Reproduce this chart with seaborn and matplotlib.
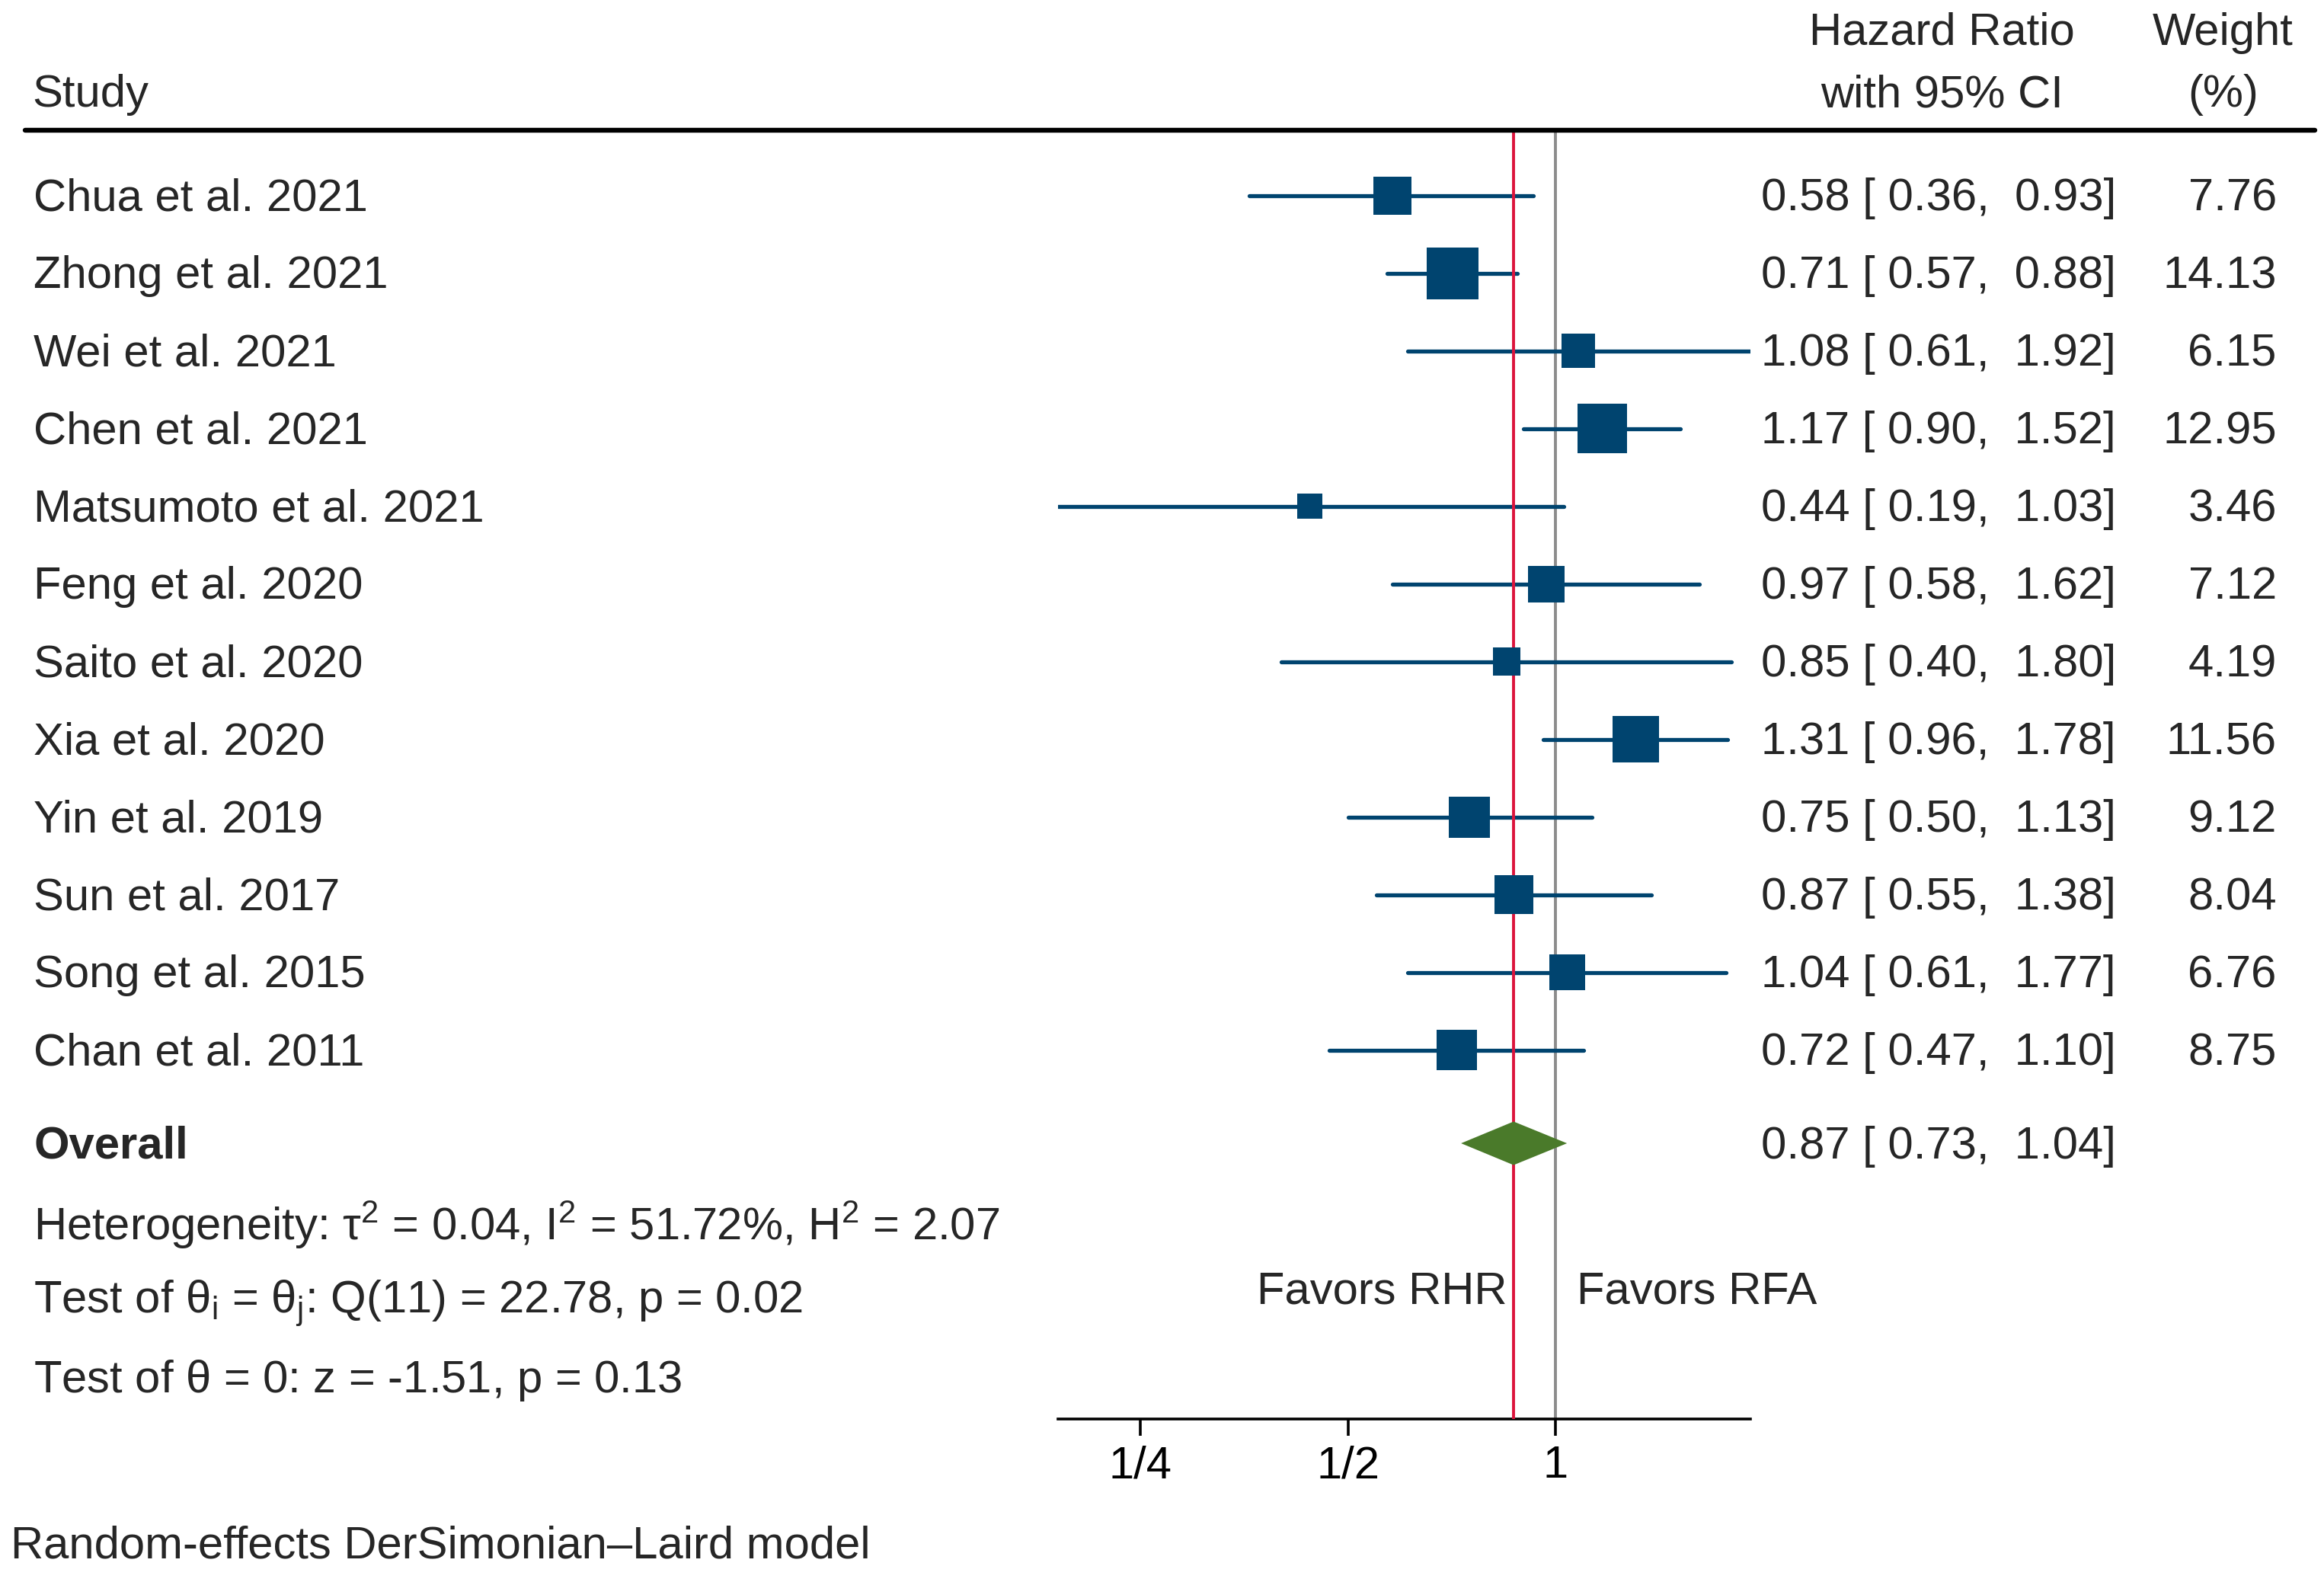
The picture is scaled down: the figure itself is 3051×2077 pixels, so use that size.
import matplotlib
matplotlib.use("Agg")
import matplotlib.pyplot as plt
import matplotlib.transforms as mtransforms
from matplotlib.lines import Line2D
import numpy as np
import pandas as pd
import seaborn as sns

# study data
studies = ["Chua et al. 2021", "Zhong et al. 2021", "Wei et al. 2021", "Chen et al. 2021",
           "Matsumoto et al. 2021", "Feng et al. 2020", "Saito et al. 2020", "Xia et al. 2020",
           "Yin et al. 2019", "Sun et al. 2017", "Song et al. 2015", "Chan et al. 2011"]
hr = [0.58, 0.71, 1.08, 1.17, 0.44, 0.97, 0.85, 1.31, 0.75, 0.87, 1.04, 0.72]
lower = [0.36, 0.57, 0.61, 0.90, 0.19, 0.58, 0.40, 0.96, 0.50, 0.55, 0.61, 0.47]
upper = [0.93, 0.88, 1.92, 1.52, 1.03, 1.62, 1.80, 1.78, 1.13, 1.38, 1.77, 1.10]
weights = [7.76, 14.13, 6.15, 12.95, 3.46, 7.12, 4.19, 11.56, 9.12, 8.04, 6.76, 8.75]

overall_hr = 0.87
overall_lo = 0.73
overall_hi = 1.04

tick_vals = [0.25, 0.5, 1]
tick_labels = ["1/4", "1/2", "1"]

het_text = r"Heterogeneity: $\tau^2$ = 0.04, I$^2$ = 51.72%, H$^2$ = 2.07"
q_text = r"Test of $\theta_i$ = $\theta_j$: Q(11) = 22.78, p = 0.02"
z_text = r"Test of $\theta$ = 0: z = -1.51, p = 0.13"
model_text = "Random-effects DerSimonian\u2013Laird model"

df = pd.DataFrame({"study": studies, "hr": hr, "lower": lower, "upper": upper, "weight": weights})
df["row"] = np.arange(len(df))

sns.set_style("white")
plt.rcParams["font.family"] = ["Liberation Sans", "DejaVu Sans"]
plt.rcParams["mathtext.default"] = "regular"
FS = 21.5
navy = "#00446F"
green = "#4A7A2A"
red = "#DC143C"
grey = "#8C8C8C"

fig = plt.figure(figsize=(15.255, 10.385), dpi=200)
ax = fig.add_axes([0.4554, 0.1030, 0.2978, 0.8146])
ax.set_xscale("log", base=2)

# reference lines
ax.axvline(1, color=grey, lw=1.4, zorder=1)
ax.hlines(df["row"], df["lower"], df["upper"], color=navy, lw=1.9, capstyle="round", zorder=2)
ax.axvline(overall_hr, color=red, lw=1.4, zorder=3)

wmin, wmax = min(weights), max(weights)
sns.scatterplot(data=df, x="hr", y="row", size="weight", sizes=(42 * wmin, 42 * wmax),
                marker="s", color=navy, linewidth=0, legend=False, ax=ax, zorder=4)

# overall diamond
y_ov = 12.2
dh = 0.28
ax.fill([overall_lo, overall_hr, overall_hi, overall_hr],
        [y_ov, y_ov - dh, y_ov, y_ov + dh], color=green, lw=0, zorder=5)

ax.set_xlim(min(lower), max(upper))
ax.set_ylim(15.75, -0.84)
ax.set_xticks(tick_vals)
ax.set_xticklabels(tick_labels, fontsize=FS)
ax.xaxis.set_minor_locator(matplotlib.ticker.NullLocator())
ax.set_yticks([])
ax.set_xlabel("")
ax.set_ylabel("")
for s in ["top", "left", "right"]:
    ax.spines[s].set_visible(False)
ax.spines["bottom"].set_linewidth(1.3)
ax.spines["bottom"].set_color("black")
ax.tick_params(axis="x", direction="out", length=7.8, width=1.3, pad=4.5, colors="black", bottom=True)
ax.patch.set_alpha(0)

tr = mtransforms.blended_transform_factory(fig.transFigure, ax.transData)

def put(x, y, s, **kw):
    kw.setdefault("fontsize", FS)
    kw.setdefault("va", "center")
    fig.text(x, y + 0.04, s, transform=tr, **kw)

# header
put(0.0140, -1.335, "Study")
put(0.8355, -2.135, "Hazard Ratio", ha="center")
put(0.8355, -1.335, "with 95% CI", ha="center")
put(0.9566, -2.135, "Weight", ha="center")
put(0.9566, -1.335, "(%)", ha="center")
fig.add_artist(Line2D([0.0108, 0.9962], [-0.84, -0.84], transform=tr, color="black", lw=2.3))

for _, r in df.iterrows():
    put(0.0145, r["row"], r["study"])
    put(0.9105, r["row"], f"{r['hr']:.2f} [ {r['lower']:.2f},  {r['upper']:.2f}]", ha="right")
    put(0.9796, r["row"], f"{r['weight']:.2f}", ha="right")

put(0.0145, y_ov, "Overall", fontweight="bold")
put(0.9105, y_ov, f"{overall_hr:.2f} [ {overall_lo:.2f},  {overall_hi:.2f}]", ha="right")
put(0.0145, 13.21, het_text)
put(0.0145, 14.22, q_text)
put(0.0145, 15.21, z_text)
put(0.6486, 14.07, "Favors RHR", ha="right")
put(0.6785, 14.07, "Favors RFA", ha="left")
put(0.0045, 17.35, model_text)

fig.savefig("out.png", dpi=200, facecolor="white")
